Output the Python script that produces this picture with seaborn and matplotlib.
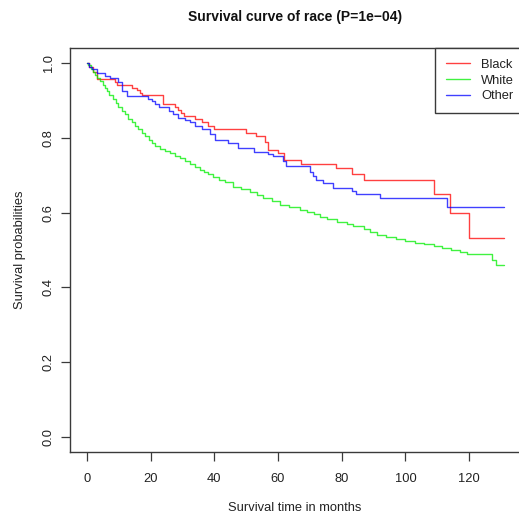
import numpy as np
import pandas as pd
import matplotlib
matplotlib.use("Agg")
import matplotlib.pyplot as plt
from matplotlib.lines import Line2D
import seaborn as sns

# Kaplan-Meier step estimates by race (months, survival probability after each event)
black_months = [0, 0.5, 2.0, 3.2, 8.8, 9.5, 14.0, 15.6, 16.5, 17.2, 24.0, 27.6, 28.5,
                29.5, 30.5, 34.0, 36.0, 38.0, 40.0, 50.0, 53.1, 55.9, 57.0, 60.1, 61.9,
                67.1, 78.2, 83.1, 87.0, 109.1, 114.0, 120.1]
black_surv = [1.0, 0.990, 0.975, 0.956, 0.948, 0.941, 0.934, 0.927, 0.920, 0.914, 0.890,
              0.881, 0.874, 0.865, 0.859, 0.850, 0.841, 0.832, 0.823, 0.814, 0.805, 0.788,
              0.768, 0.759, 0.741, 0.730, 0.719, 0.703, 0.688, 0.650, 0.600, 0.533]

white_months = [0, 0.4, 1.2, 2.0, 2.5, 3.2, 4.1, 5.0, 5.6, 6.2, 7.0, 8.3, 9.0, 9.8, 11.0,
                11.9, 13.0, 14.0, 15.0, 16.1, 17.2, 18.2, 19.5, 20.5, 21.4, 23.0, 24.5,
                26.0, 27.7, 29.2, 30.8, 32.5, 34.0, 35.5, 36.6, 38.0, 39.7, 41.5, 43.5,
                46.0, 48.5, 51.3, 53.5, 55.4, 58.0, 60.7, 63.5, 67.0, 69.0, 71.2, 73.3,
                75.4, 78.5, 81.7, 83.5, 86.9, 89.0, 91.1, 94.0, 96.9, 100.0, 103.1, 106.0,
                108.9, 111.5, 114.2, 117.0, 119.4, 127.3, 128.4]
white_surv = [1.0, 0.995, 0.985, 0.975, 0.968, 0.960, 0.952, 0.940, 0.932, 0.925, 0.915,
              0.903, 0.892, 0.881, 0.872, 0.863, 0.851, 0.841, 0.832, 0.823, 0.814, 0.805,
              0.795, 0.787, 0.779, 0.771, 0.765, 0.758, 0.752, 0.745, 0.739, 0.730, 0.721,
              0.713, 0.708, 0.702, 0.696, 0.688, 0.681, 0.669, 0.662, 0.654, 0.646, 0.639,
              0.630, 0.621, 0.614, 0.607, 0.601, 0.595, 0.589, 0.583, 0.576, 0.570, 0.565,
              0.556, 0.549, 0.541, 0.535, 0.530, 0.524, 0.519, 0.515, 0.512, 0.506, 0.500,
              0.495, 0.490, 0.474, 0.461]

other_months = [0, 0.5, 1.5, 3.0, 5.7, 7.2, 9.7, 11.0, 12.6, 19.3, 20.5, 21.5, 22.5, 25.6,
                27.0, 28.5, 30.8, 32.5, 34.0, 36.0, 38.5, 40.2, 44.4, 47.5, 52.3, 57.0,
                58.5, 61.7, 62.5, 70.0, 71.0, 72.0, 74.0, 77.2, 83.1, 84.5, 92.0, 113.0]
other_surv = [1.0, 0.990, 0.983, 0.974, 0.965, 0.959, 0.948, 0.925, 0.912, 0.903, 0.897,
              0.890, 0.883, 0.872, 0.863, 0.854, 0.847, 0.841, 0.832, 0.823, 0.810, 0.795,
              0.786, 0.772, 0.763, 0.757, 0.750, 0.739, 0.724, 0.709, 0.699, 0.688, 0.679,
              0.665, 0.657, 0.650, 0.638, 0.614]

followup_end = 131.0

races = ["Black", "White", "Other"]
race_colors = {"Black": "#FF0000", "White": "#00EE00", "Other": "#0000FF"}

x_ticks = [0, 20, 40, 60, 80, 100, 120]
y_ticks = [0.0, 0.2, 0.4, 0.6, 0.8, 1.0]

title_text = "Survival curve of race (P=1e\u221204)"
x_label = "Survival time in months"
y_label = "Survival probabilities"


def curve_frame(name, months, surv):
    # extend each curve flat to the end of follow-up
    t = list(months) + [followup_end]
    s = list(surv) + [surv[-1]]
    return pd.DataFrame({"months": t, "survival": s, "race": name})


df = pd.concat([
    curve_frame("Black", black_months, black_surv),
    curve_frame("White", white_months, white_surv),
    curve_frame("Other", other_months, other_surv),
], ignore_index=True)

sns.set_theme(style="white")
plt.rcParams["font.family"] = ["Liberation Sans", "DejaVu Sans"]

W, H = 519, 515
fs = 9.3
fig = plt.figure(figsize=(W / 100, H / 100), dpi=100)
fig.patch.set_facecolor("white")
ax = fig.add_axes([70 / W, 63 / H, 450 / W, 404 / H])

sns.lineplot(data=df, x="months", y="survival", hue="race", hue_order=races,
             palette=race_colors, drawstyle="steps-post", estimator=None,
             legend=False, linewidth=1.0, alpha=0.75, ax=ax)

ax.set_xlim(-5.34, 136.0)
ax.set_ylim(-0.04, 1.04)
ax.set_xticks(x_ticks)
ax.set_xticklabels([str(v) for v in x_ticks])
ax.set_yticks(y_ticks)
ax.set_yticklabels([f"{v:.1f}" for v in y_ticks])

frame_color = "#3a3a3a"
for sp in ax.spines.values():
    sp.set_visible(True)
    sp.set_color(frame_color)
    sp.set_linewidth(1.0)

ax.tick_params(axis="both", which="major", bottom=True, left=True, direction="out",
               length=6.5, width=0.9, color=frame_color, labelsize=fs,
               labelcolor="#222222")
ax.tick_params(axis="x", pad=8.3)
ax.tick_params(axis="y", pad=4.3, labelrotation=90)
for lab in ax.get_yticklabels():
    lab.set_va("center")

ax.set_xlabel(x_label, fontsize=fs, color="#222222")
ax.set_ylabel(y_label, fontsize=fs, color="#222222")
ax.xaxis.set_label_coords(0.5, (452 - 508) / 404)
ax.xaxis.label.set_va("center")
ax.yaxis.set_label_coords((20 - 70) / 450, 0.5)
ax.yaxis.label.set_va("center")

ax.text(0.5, (452 - 17) / 404, title_text, transform=ax.transAxes, ha="center",
        va="center", fontsize=10.0, fontweight="bold", color="#111111")

handles = [Line2D([], [], color=race_colors[r], lw=1.0, alpha=0.75) for r in races]
leg = ax.legend(handles, races, loc="upper right", bbox_to_anchor=(1.0 + 5 / 450, 1.0),
                borderaxespad=0.0, frameon=True, fancybox=False, framealpha=1.0,
                edgecolor=frame_color, fontsize=fs, handlelength=1.85,
                handletextpad=0.9, labelspacing=0.28, borderpad=0.85)
leg.get_frame().set_linewidth(1.0)
for t in leg.get_texts():
    t.set_color("#222222")

fig.savefig("out.png", dpi=100, facecolor="white")
